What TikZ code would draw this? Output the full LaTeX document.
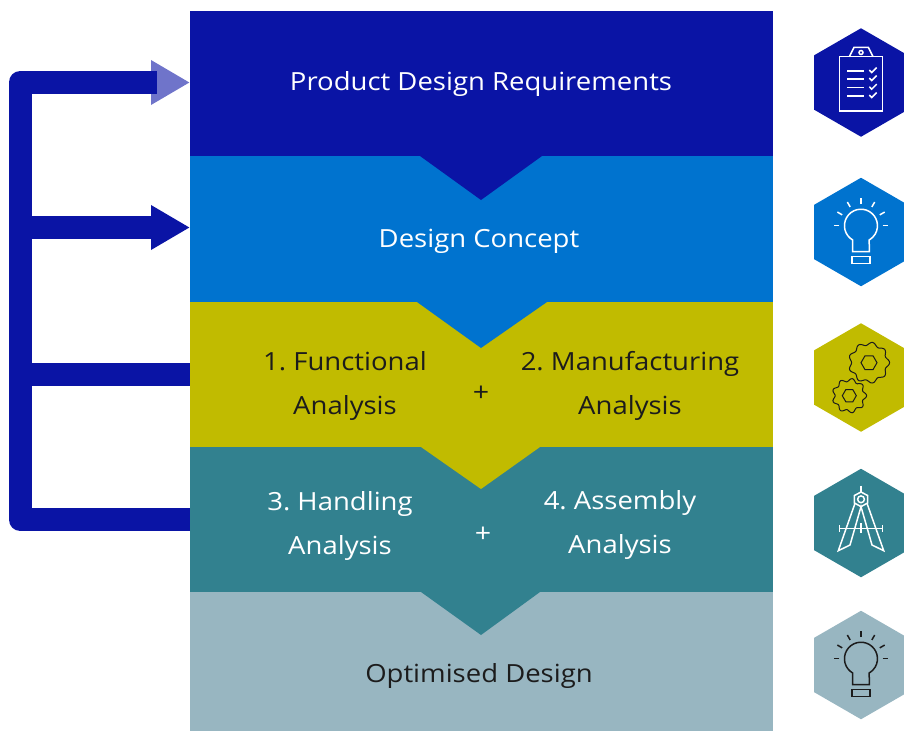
\documentclass[tikz,border=0pt]{standalone}
\usepackage{fontspec}
\setmainfont[FakeStretch=1.1]{Open Sans}
\usetikzlibrary{arrows.meta,positioning,shapes.geometric}
\definecolor{navy}{HTML}{0A14A5}
\definecolor{headpale}{HTML}{6F74CA}
\definecolor{azure}{HTML}{0073CF}
\definecolor{olive}{HTML}{C1BB00}
\definecolor{teal}{HTML}{32818F}
\definecolor{haze}{HTML}{98B6C1}
\definecolor{ink}{HTML}{1C1C1C}
\frenchspacing
% one cog wheel: centre x, centre y, mean radius, hexagon radius
\newcommand{\cogwheel}[4]{
  \draw[smooth cycle] plot[domain=0:356,samples=90] ({#1+(#3+1.6*cos(9*\x))*cos(\x)},{#2+(#3+1.6*cos(9*\x))*sin(\x)});
  \draw (#1+#4,#2) -- ++(120:#4) -- ++(180:#4) -- ++(240:#4) -- ++(300:#4) -- ++(0:#4) -- cycle;
}
\begin{document}
\begin{tikzpicture}[x=1pt,y=-1pt,
	band/.style={minimum width=583pt,inner sep=0pt,outer sep=0pt},
	hex/.style={regular polygon,regular polygon sides=6,shape border rotate=30,minimum size=108.5pt,inner sep=0pt,outer sep=0pt},
	caption/.style={align=center,font=\fontsize{25}{44}\selectfont},
	feedback/.style={draw=navy,line width=23pt,line join=round},
	head/.style={-{Triangle[length=39pt,width=42pt,color=#1]}},
	icon/.style={line width=1.5pt},
	bulb/.pic={
		\draw (-8.3,19.7) -- (-8.3,8) arc[start angle=120,end angle=420,radius=16.5] -- (8.3,19.7) -- cycle;
		\draw (-9,24.7) rectangle (9,31.3);
		\foreach \a in {0,30,...,180}
			\draw ({21.7*cos(\a)},{-6.3-21.7*sin(\a)}) -- ({27.3*cos(\a)},{-6.3-27.3*sin(\a)});
	}]
\useasboundingbox (0,0) rectangle (904,731);

% stacked bands
\node[band,fill=navy,minimum height=145pt] (1) at (481.5,83.5) {};
\node[band,fill=azure,minimum height=146pt] (2) [below=0pt of 1] {};
\node[band,fill=olive,minimum height=145pt] (3) [below=0pt of 2] {};
\node[band,fill=teal,minimum height=145pt] (4) [below=0pt of 3] {};
\node[band,fill=haze,minimum height=139pt] (5) [below=0pt of 4] {};
\fill[navy] (420,156) -- (481,200) -- (542,156) -- cycle;
\fill[azure] (417,302) -- (481,348) -- (547,302) -- cycle;
\fill[olive] (421,447) -- (481,489) -- (540,447) -- cycle;
\fill[teal] (421,592) -- (481,635) -- (540,592) -- cycle;

% captions
\node[caption,white] (req) at (481,84.5) {Product Design Requirements};
\node[caption,white] (concept) at (479,241.5) {Design Concept};
\node[caption,ink] (func) at (345,385.5) {1. Functional\\Analysis};
\node[caption,ink] (manu) at (630,385.5) {2. Manufacturing\\Analysis};
\node[caption,ink,font=\fontsize{26}{26}\selectfont] (plus1) at (481,393.5) {+};
\node[caption,white] (hand) at (340,526) {3. Handling\\Analysis};
\node[caption,white] (assy) at (620,525) {4. Assembly\\Analysis};
\node[caption,white,font=\fontsize{26}{26}\selectfont] (plus2) at (483,534.5) {+};
\node[caption,ink] (opt) at (479,675.5) {Optimised Design};

% feedback loop
\coordinate (tl) at (20,82.5);
\coordinate (bl) at (20,519.5);
\coordinate (stub) at (157,82.5);
\draw[feedback,head=headpale] (tl) -- ([yshift=1pt]1.west);
\draw[feedback] (4.west) -- (bl) -- (tl) -- (stub);
\draw[feedback,head=navy] (tl |- 0,227.5) -- ([yshift=1.5pt]2.west);
\draw[feedback] (tl |- 3.west) -- (3.west);

% icons
\node[hex,fill=navy] (h1) at (861,82.5) {};
\node[hex,fill=azure] (h2) at (861,232) {};
\node[hex,fill=olive] (h3) at (861,377.5) {};
\node[hex,fill=teal] (h4) at (861,523) {};
\node[hex,fill=haze] (h5) at (861,665) {};

\begin{scope}[shift={(h1)},draw=white,icon]
	\draw (-21.7,-25.8) rectangle (21.7,28.5);
	\draw (-11.7,-25.8) -- (-7,-35.2) -- (7.3,-35.2) -- (12,-25.8);
	\draw (0,-30) circle (2);
	\foreach \y in {-11.5,-3.5,5.2,13.5} {
		\draw (-13.7,\y) -- (3,\y);
		\draw (8.3,\y-1) -- (10.7,\y+1.5) -- (15.7,\y-3.5);
	}
\end{scope}
\pic[draw=white,icon] at (h2) {bulb};
\begin{scope}[shift={(h3)},draw=ink,line width=1pt]
	\cogwheel{8}{-14.8}{19}{8}
	\cogwheel{-11.7}{18.2}{15.7}{7}
\end{scope}
\begin{scope}[shift={(h4)},draw=white,icon]
	\draw (0,-37.3) -- (0,-31);
	\draw (0,-31) -- (6.6,-27.5) -- (6.6,-20) -- (0,-16.4) -- (-6.6,-20) -- (-6.6,-27.5) -- cycle;
	\draw (0,-23.7) circle (3.4);
	\draw (-6,-19.7) -- (-22.7,27.7) -- (-11,22) -- (0,-16.3) -- (11,22) -- (22.7,27.7) -- (6,-19.7);
	\draw (-21.3,5.3) -- (21.3,5.3);
	\draw (-21.3,2) -- (-21.3,8.7);
	\draw (21.3,2) -- (21.3,8.7);
	\draw (0,0.3) -- (0,10.3);
\end{scope}
\pic[draw=ink,icon] at (h5) {bulb};
\end{tikzpicture}
\end{document}
